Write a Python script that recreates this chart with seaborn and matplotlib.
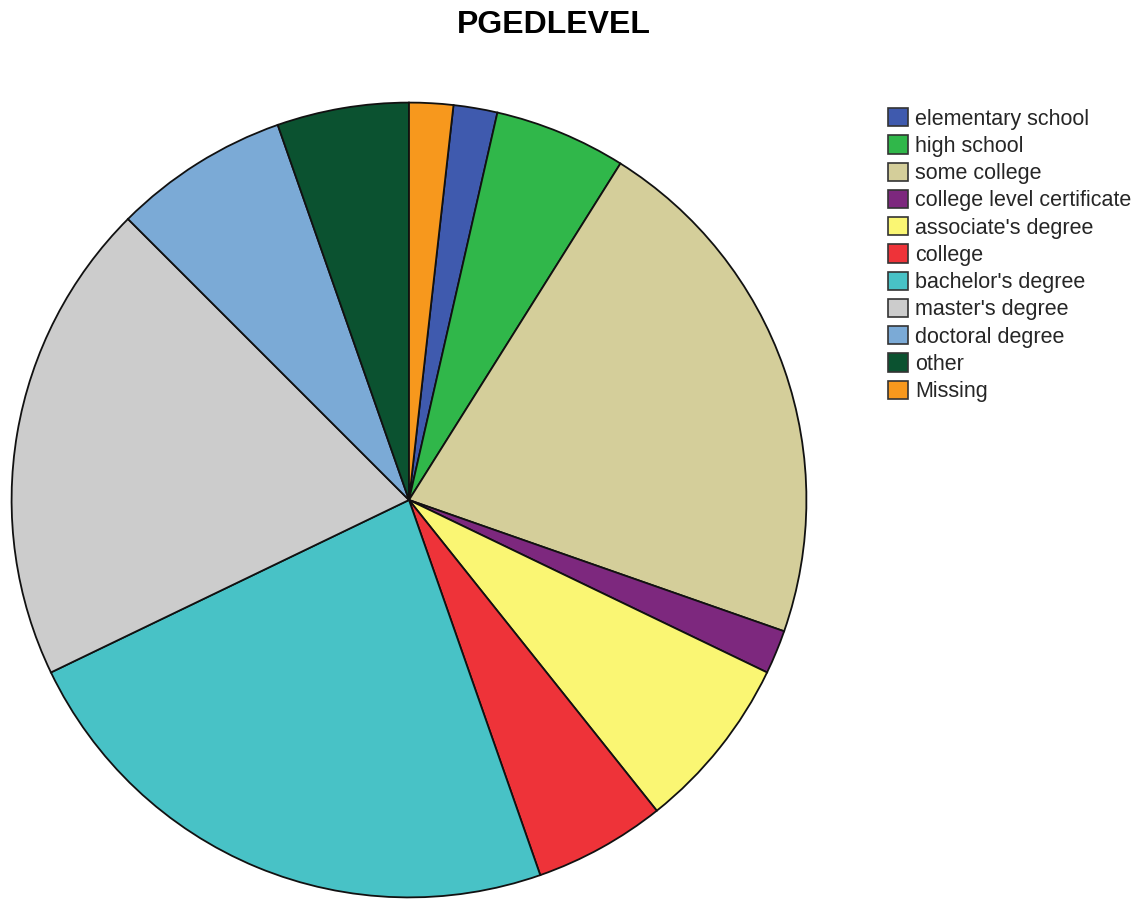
import matplotlib
matplotlib.use("Agg")
import matplotlib.pyplot as plt
import matplotlib.patches as mpatches
import seaborn as sns

# PGEDLEVEL counts (N = 56), legend order
categories = ["elementary school", "high school", "some college",
              "college level certificate", "associate's degree", "college",
              "bachelor's degree", "master's degree", "doctoral degree",
              "other", "Missing"]
counts = [1, 3, 12, 1, 4, 3, 13, 11, 4, 3, 1]
colors = ["#3F5AAE", "#30B74A", "#D4CE9A", "#7D287E", "#FAF673", "#EE3339",
          "#48C2C6", "#CCCCCC", "#7BAAD6", "#0B5230", "#F7981D"]

sns.set_theme(style="white")
plt.rcParams["font.family"] = ["Liberation Sans", "DejaVu Sans"]

W, H = 1139, 899
fig = plt.figure(figsize=(W / 100, H / 100), dpi=100)

# pie area: center (409, 500) px, radius ~399 px
r_px = 399
ax = fig.add_axes([(409 - r_px) / W, (H - 500 - r_px) / H, 2 * r_px / W, 2 * r_px / H])

# first slice starts just right of 12 o'clock so "Missing" ends at the top
start = 90 - 360 * counts[-1] / sum(counts)
wedges, _ = ax.pie(counts, colors=colors, startangle=start, counterclock=False,
                   wedgeprops=dict(edgecolor="#111111", linewidth=1.3))
ax.set_xlim(-1.004, 1.004)
ax.set_ylim(-1.004, 1.004)
ax.set_aspect("equal")
ax.axis("off")

fig.text(554 / W, 1 - 25 / H, "PGEDLEVEL", ha="center", va="center",
         fontsize=23, fontweight="bold", color="black")

handles = [mpatches.Patch(facecolor=c, edgecolor="#333333", linewidth=1.2, label=l)
           for c, l in zip(colors, categories)]
fig.legend(handles=handles, loc="upper left", bbox_to_anchor=(888 / W, 1 - 108 / H),
           frameon=False, fontsize=15.5, handlelength=0.93, handleheight=0.93,
           handletextpad=0.33, labelspacing=0.265, borderpad=0, borderaxespad=0)

fig.savefig("out.png", dpi=100, facecolor="white")
